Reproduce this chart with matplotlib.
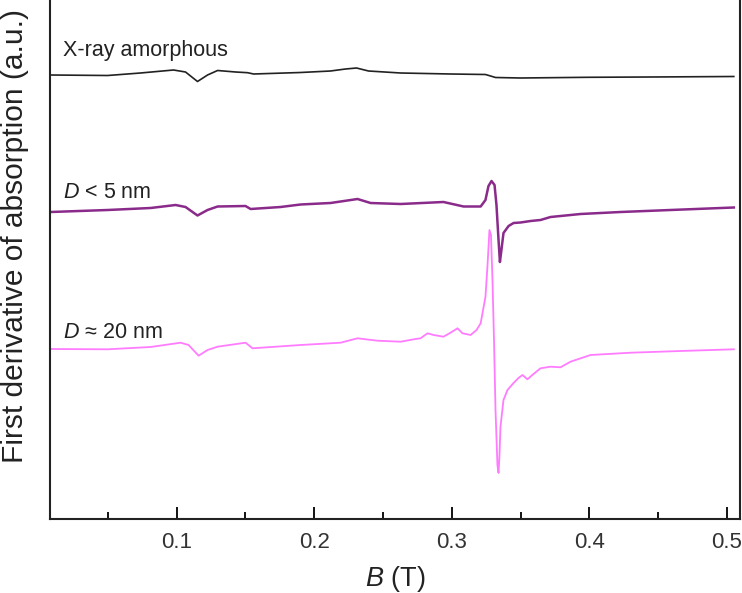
import matplotlib.pyplot as plt
from matplotlib.ticker import MultipleLocator

plt.rcParams['font.family'] = ['Liberation Sans', 'DejaVu Sans']
plt.rcParams['mathtext.fontset'] = 'custom'
plt.rcParams['mathtext.it'] = 'Liberation Sans:italic'
plt.rcParams['mathtext.rm'] = 'Liberation Sans'

# EPR spectra, stacked (a.u.)
b_amorph = [0.0084, 0.0499, 0.0738, 0.0978, 0.1065, 0.1152, 0.1225, 0.1298, 0.1429,
            0.1516, 0.1560, 0.1901, 0.2119, 0.2228, 0.2308, 0.2395, 0.2628, 0.2991,
            0.3245, 0.3282, 0.3318, 0.3500, 0.3987, 0.4445, 0.5050]
s_amorph = [4.440, 4.435, 4.460, 4.490, 4.470, 4.375, 4.440, 4.485, 4.470,
            4.463, 4.450, 4.465, 4.480, 4.500, 4.510, 4.480, 4.460, 4.450,
            4.445, 4.430, 4.415, 4.410, 4.417, 4.420, 4.425]

b_small = [0.0084, 0.0499, 0.0811, 0.0993, 0.1065, 0.1152, 0.1225, 0.1298, 0.1501,
           0.1538, 0.1756, 0.1901, 0.2119, 0.2315, 0.2410, 0.2628, 0.2940, 0.3086,
           0.3210, 0.3245, 0.3267, 0.3289, 0.3311, 0.3325, 0.3340, 0.3350, 0.3361,
           0.3376, 0.3413, 0.3449, 0.3500, 0.3573, 0.3645, 0.3718, 0.3936, 0.4227,
           0.4590, 0.5050]
s_small = [3.070, 3.090, 3.110, 3.140, 3.120, 3.035, 3.090, 3.125, 3.130,
           3.100, 3.120, 3.145, 3.160, 3.200, 3.160, 3.150, 3.170, 3.125,
           3.125, 3.190, 3.330, 3.380, 3.340, 3.140, 2.790, 2.570, 2.690,
           2.860, 2.930, 2.960, 2.965, 2.980, 2.990, 3.020, 3.050, 3.070,
           3.090, 3.115]

b_large = [0.0084, 0.0499, 0.0811, 0.1029, 0.1087, 0.1160, 0.1225, 0.1298, 0.1501,
           0.1552, 0.1901, 0.2192, 0.2315, 0.2460, 0.2628, 0.2737, 0.2773, 0.2824,
           0.2868, 0.2940, 0.2991, 0.3042, 0.3078, 0.3137, 0.3180, 0.3210, 0.3245,
           0.3260, 0.3274, 0.3285, 0.3296, 0.3307, 0.3318, 0.3332, 0.3340, 0.3347,
           0.3354, 0.3376, 0.3405, 0.3449, 0.3485, 0.3514, 0.3550, 0.3594, 0.3645,
           0.3718, 0.3790, 0.3863, 0.4009, 0.4300, 0.4663, 0.5050]
s_large = [1.700, 1.697, 1.720, 1.763, 1.740, 1.633, 1.690, 1.723, 1.763,
           1.707, 1.740, 1.763, 1.807, 1.783, 1.773, 1.800, 1.807, 1.857,
           1.840, 1.823, 1.863, 1.907, 1.857, 1.840, 1.890, 1.957, 2.223,
           2.540, 2.890, 2.840, 2.390, 1.790, 1.090, 0.540, 0.460, 0.640,
           0.923, 1.190, 1.290, 1.360, 1.410, 1.440, 1.397, 1.450, 1.507,
           1.523, 1.517, 1.573, 1.640, 1.663, 1.680, 1.697]

fig = plt.figure(figsize=(7.42, 5.93), dpi=100)
ax = fig.add_axes([50 / 742, 74 / 593, 690 / 742, 519 / 593])

ax.plot(b_amorph, s_amorph, color='#222222', lw=1.2)
ax.plot(b_small, s_small, color='#8a2a8a', lw=1.8)
ax.plot(b_large, s_large, color='#ff7cff', lw=1.3)

ax.text(0.0172, 4.685, 'X-ray amorphous', fontsize=15.5, va='center', color='#222222')
ax.text(0.0172, 3.27, '$D$ < 5 nm', fontsize=15.5, va='center', color='#222222')
ax.text(0.0172, 1.86, '$D$ ≈ 20 nm', fontsize=15.5, va='center', color='#222222')

ax.set_xlim(0.008, 0.5095)
ax.set_ylim(0, 5.19)
ax.xaxis.set_major_locator(MultipleLocator(0.1))
ax.xaxis.set_minor_locator(MultipleLocator(0.05))
ax.set_yticks([])
ax.tick_params(axis='x', which='major', direction='in', length=9, width=1.3,
               labelsize=16, pad=9, labelcolor='#333333')
ax.tick_params(axis='x', which='minor', direction='in', length=5, width=1.3)

ax.spines['top'].set_visible(False)
for s in ['left', 'right', 'bottom']:
    ax.spines[s].set_linewidth(1.5)
    ax.spines[s].set_color('#222222')

ax.set_xlabel('$B$ (T)', fontsize=19.5, color='#222222')
ax.xaxis.set_label_coords(0.5, -0.087)
ax.set_ylabel('First derivative of absorption (a.u.)', fontsize=21.5, color='#222222')
ax.yaxis.set_label_coords(-0.03, 0.545)

fig.savefig('out.png', dpi=100)
